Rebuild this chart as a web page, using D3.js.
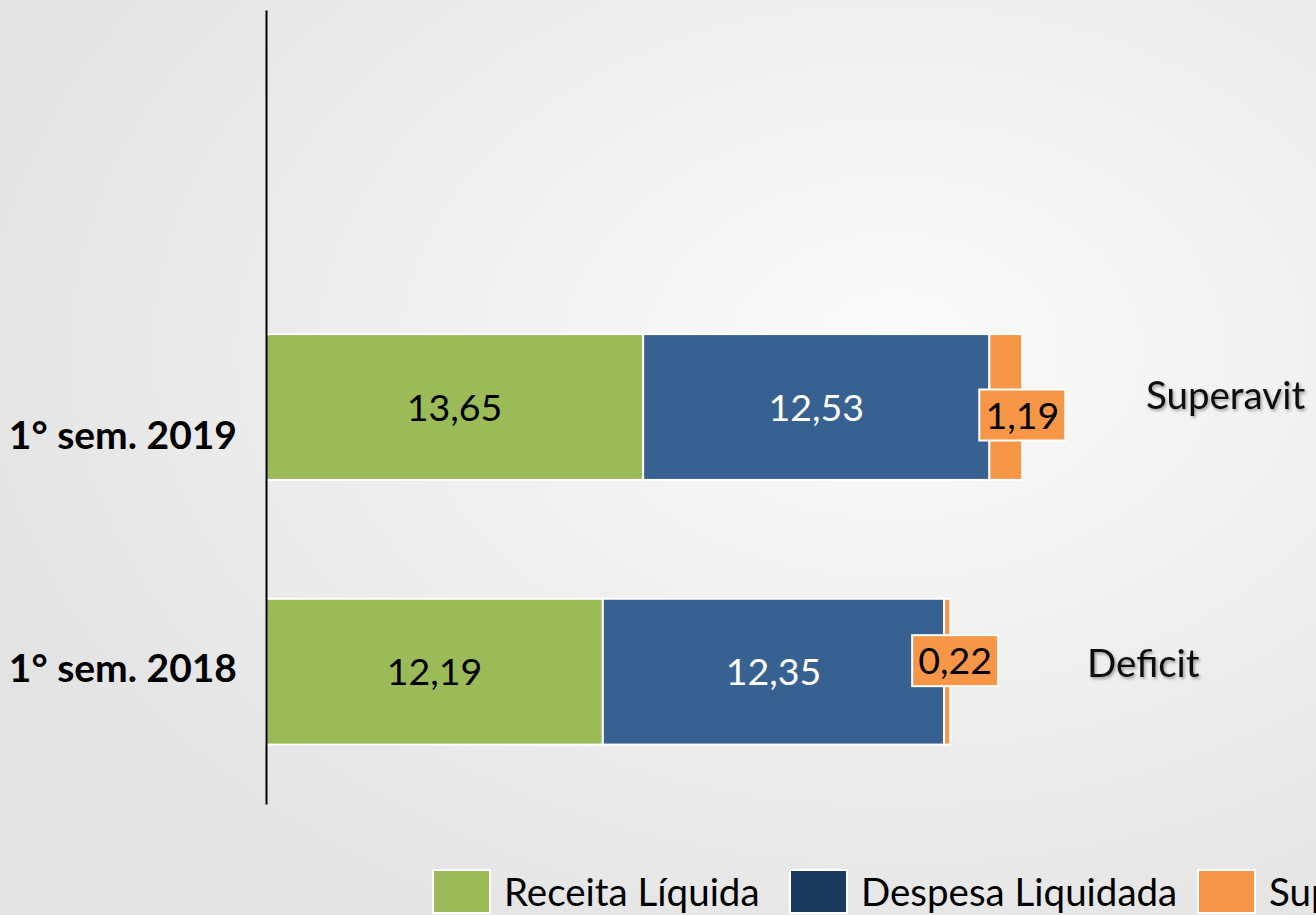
<!DOCTYPE html>
<html>
<head>
<meta charset="utf-8">
<script src="https://cdn.jsdelivr.net/npm/d3@7"></script>
<style>
  body { margin: 0; background: #e8e8e8; }
  svg { display: block; font-family: Lato, "Open Sans", sans-serif; }
</style>
</head>
<body>
<div id="chart"></div>
<script>
const categories = ["1° sem. 2019", "1° sem. 2018"];
const seriesNames = ["Receita Líquida", "Despesa Liquidada", "Superavit/Deficit"];
const receita = [13.65, 12.19];
const despesa = [12.53, 12.35];
const saldo = [1.19, 0.22];
const saldoNotes = ["Superavit", "Deficit"];
const valueLabels = [["13,65", "12,53", "1,19"], ["12,19", "12,35", "0,22"]];

const width = 1316;
const height = 915;

const barColors = ["#9bbb59", "#376191", "#f79646"];
const legendColors = ["#9bbb59", "#1b3a60", "#f79646"];

const svg = d3.select("#chart")
    .append("svg")
    .attr("width", width)
    .attr("height", height);

// slide-like background
const defs = svg.append("defs");
const grad = defs.append("radialGradient")
    .attr("id", "bg")
    .attr("cx", "68%").attr("cy", "38%").attr("r", "75%");
grad.append("stop").attr("offset", "0%").attr("stop-color", "#fbfbfb");
grad.append("stop").attr("offset", "100%").attr("stop-color", "#e3e3e3");

const shadow = defs.append("filter").attr("id", "shadow")
    .attr("x", "-10%").attr("y", "-20%").attr("width", "130%").attr("height", "150%");
shadow.append("feDropShadow")
    .attr("dx", 1.5).attr("dy", 2).attr("stdDeviation", 1.5)
    .attr("flood-color", "#000").attr("flood-opacity", 0.35);

svg.append("rect")
    .attr("width", width)
    .attr("height", height)
    .attr("fill", "url(#bg)");

const rows = categories.map((c, i) => ({
    cat: c,
    receita: receita[i],
    despesa: despesa[i],
    saldo: saldo[i]
}));

const keys = ["receita", "despesa", "saldo"];
const stacked = d3.stack().keys(keys)(rows);

const x = d3.scaleLinear()
    .domain([0, 38])
    .range([266, 1316]);

const y = d3.scaleBand()
    .domain(["", ...categories])
    .range([10, 804])
    .paddingInner(0.449)
    .paddingOuter(0.2245);

// bars
stacked.forEach((layer, k) => {
    svg.append("g")
        .selectAll("rect")
        .data(layer)
        .join("rect")
        .attr("x", d => x(d[0]))
        .attr("y", d => y(d.data.cat))
        .attr("width", d => x(d[1]) - x(d[0]))
        .attr("height", y.bandwidth())
        .attr("fill", barColors[k])
        .attr("stroke", "#fff")
        .attr("stroke-width", 2);
});

// axis line
svg.append("g")
    .attr("transform", `translate(${x(0)},0)`)
    .call(d3.axisLeft(y).tickSize(0).tickSizeOuter(0).tickFormat(""))
    .call(g => g.select(".domain").attr("stroke", "#000").attr("stroke-width", 2));

// category labels (placed like the original slide)
const catOffset = [28, -4];
svg.append("g")
    .selectAll("text")
    .data(categories)
    .join("text")
    .attr("x", 237)
    .attr("y", (d, i) => y(d) + y.bandwidth() / 2 + catOffset[i])
    .attr("dy", "0.36em")
    .attr("text-anchor", "end")
    .style("font-size", "39px")
    .style("font-weight", "bold")
    .style("fill", "#000")
    .text(d => d);

// values inside receita / despesa segments
[0, 1].forEach(k => {
    svg.append("g")
        .selectAll("text")
        .data(stacked[k])
        .join("text")
        .attr("x", d => (x(d[0]) + x(d[1])) / 2)
        .attr("y", d => y(d.data.cat) + y.bandwidth() / 2)
        .attr("dy", "0.36em")
        .attr("text-anchor", "middle")
        .style("font-size", "37.5px")
        .style("fill", k === 0 ? "#000" : "#fff")
        .text((d, i) => valueLabels[i][k]);
});

// saldo labels in boxes at the bar end
const boxOffset = [{ dx: 0, dy: 8 }, { dx: 5, dy: -11 }];
const boxW = 86, boxH = 51;
const saldoG = svg.append("g")
    .selectAll("g")
    .data(stacked[2])
    .join("g")
    .attr("transform", (d, i) =>
        `translate(${x(d[1]) + boxOffset[i].dx},${y(d.data.cat) + y.bandwidth() / 2 + boxOffset[i].dy})`);

saldoG.append("rect")
    .attr("x", -boxW / 2)
    .attr("y", -boxH / 2)
    .attr("width", boxW)
    .attr("height", boxH)
    .attr("fill", "#f79646")
    .attr("stroke", "#fff")
    .attr("stroke-width", 2);

saldoG.append("text")
    .attr("dy", "0.36em")
    .attr("text-anchor", "middle")
    .style("font-size", "37.5px")
    .style("fill", "#000")
    .text((d, i) => valueLabels[i][2]);

// superavit / deficit notes
const notePos = [{ x: 1146, dy: -12 }, { x: 1087, dy: -9 }];
svg.append("g")
    .selectAll("text")
    .data(saldoNotes)
    .join("text")
    .attr("x", (d, i) => notePos[i].x)
    .attr("y", (d, i) => y(categories[i]) + y.bandwidth() / 2 + notePos[i].dy)
    .attr("dy", "0.36em")
    .style("font-size", "38.5px")
    .style("fill", "#111")
    .attr("filter", "url(#shadow)")
    .text(d => d);

// legend
const legendX = [433, 790, 1198];
const legend = svg.append("g").attr("transform", "translate(0, 870)");
seriesNames.forEach((name, i) => {
    const row = legend.append("g").attr("transform", `translate(${legendX[i]},0)`);
    row.append("rect")
        .attr("width", 57)
        .attr("height", 43)
        .attr("fill", legendColors[i])
        .attr("stroke", "#fff")
        .attr("stroke-width", 2);
    row.append("text")
        .attr("x", 71)
        .attr("y", 22)
        .attr("dy", "0.36em")
        .style("font-size", "38.5px")
        .style("fill", "#000")
        .text(name);
});
</script>
</body>
</html>
